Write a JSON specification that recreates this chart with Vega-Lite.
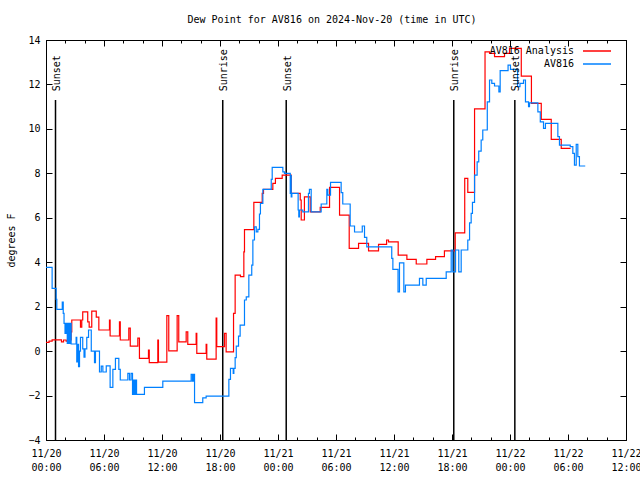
{
"$schema": "https://vega.github.io/schema/vega-lite/v6.json",
"autosize": {"type": "none"},
"width": 580,
"height": 400,
"padding": {"left": 46, "top": 40, "right": 14, "bottom": 40},
"background": "white",
"title": {"text": "Dew Point for AV816 on 2024-Nov-20 (time in UTC)", "font": "DejaVu Sans Mono", "fontSize": 10, "fontWeight": "normal", "color": "black", "offset": 10, "dx": -4},
"datasets": {
"sun": [
{"label": "Sunset", "t": "2024-11-20T00:59:00Z"},
{"label": "Sunrise", "t": "2024-11-20T18:17:00Z"},
{"label": "Sunset", "t": "2024-11-21T00:51:00Z"},
{"label": "Sunrise", "t": "2024-11-21T18:11:00Z"},
{"label": "Sunset", "t": "2024-11-22T00:30:00Z"}
],
"red": [
{"s": "AV816 Analysis", "t": "2024-11-20T00:00:00Z", "v": 0.39},
{"s": "AV816 Analysis", "t": "2024-11-20T00:19:00Z", "v": 0.45},
{"s": "AV816 Analysis", "t": "2024-11-20T00:38:00Z", "v": 0.51},
{"s": "AV816 Analysis", "t": "2024-11-20T01:36:00Z", "v": 0.42},
{"s": "AV816 Analysis", "t": "2024-11-20T01:49:00Z", "v": 0.50},
{"s": "AV816 Analysis", "t": "2024-11-20T02:05:00Z", "v": 0.45},
{"s": "AV816 Analysis", "t": "2024-11-20T02:26:00Z", "v": 0.50},
{"s": "AV816 Analysis", "t": "2024-11-20T02:36:00Z", "v": 0.87},
{"s": "AV816 Analysis", "t": "2024-11-20T02:40:00Z", "v": 1.40},
{"s": "AV816 Analysis", "t": "2024-11-20T03:34:00Z", "v": 1.08},
{"s": "AV816 Analysis", "t": "2024-11-20T03:42:00Z", "v": 1.40},
{"s": "AV816 Analysis", "t": "2024-11-20T03:48:00Z", "v": 1.77},
{"s": "AV816 Analysis", "t": "2024-11-20T04:19:00Z", "v": 1.32},
{"s": "AV816 Analysis", "t": "2024-11-20T04:28:00Z", "v": 1.08},
{"s": "AV816 Analysis", "t": "2024-11-20T04:44:00Z", "v": 1.80},
{"s": "AV816 Analysis", "t": "2024-11-20T05:12:00Z", "v": 1.53},
{"s": "AV816 Analysis", "t": "2024-11-20T05:28:00Z", "v": 0.95},
{"s": "AV816 Analysis", "t": "2024-11-20T06:34:00Z", "v": 1.40},
{"s": "AV816 Analysis", "t": "2024-11-20T06:38:00Z", "v": 0.68},
{"s": "AV816 Analysis", "t": "2024-11-20T07:36:00Z", "v": 1.32},
{"s": "AV816 Analysis", "t": "2024-11-20T07:41:00Z", "v": 0.50},
{"s": "AV816 Analysis", "t": "2024-11-20T08:34:00Z", "v": 1.03},
{"s": "AV816 Analysis", "t": "2024-11-20T08:43:00Z", "v": 0.22},
{"s": "AV816 Analysis", "t": "2024-11-20T09:30:00Z", "v": 0.58},
{"s": "AV816 Analysis", "t": "2024-11-20T09:40:00Z", "v": -0.33},
{"s": "AV816 Analysis", "t": "2024-11-20T10:36:00Z", "v": 0.05},
{"s": "AV816 Analysis", "t": "2024-11-20T10:41:00Z", "v": -0.52},
{"s": "AV816 Analysis", "t": "2024-11-20T11:34:00Z", "v": 0.50},
{"s": "AV816 Analysis", "t": "2024-11-20T11:38:00Z", "v": -0.50},
{"s": "AV816 Analysis", "t": "2024-11-20T12:30:00Z", "v": 1.60},
{"s": "AV816 Analysis", "t": "2024-11-20T12:42:00Z", "v": 0.01},
{"s": "AV816 Analysis", "t": "2024-11-20T13:34:00Z", "v": 1.60},
{"s": "AV816 Analysis", "t": "2024-11-20T13:44:00Z", "v": 0.42},
{"s": "AV816 Analysis", "t": "2024-11-20T14:30:00Z", "v": 0.87},
{"s": "AV816 Analysis", "t": "2024-11-20T14:40:00Z", "v": 0.30},
{"s": "AV816 Analysis", "t": "2024-11-20T15:32:00Z", "v": 0.80},
{"s": "AV816 Analysis", "t": "2024-11-20T15:36:00Z", "v": -0.10},
{"s": "AV816 Analysis", "t": "2024-11-20T16:34:00Z", "v": 0.30},
{"s": "AV816 Analysis", "t": "2024-11-20T16:38:00Z", "v": -0.36},
{"s": "AV816 Analysis", "t": "2024-11-20T17:36:00Z", "v": 1.48},
{"s": "AV816 Analysis", "t": "2024-11-20T17:40:00Z", "v": 0.20},
{"s": "AV816 Analysis", "t": "2024-11-20T18:28:00Z", "v": 0.80},
{"s": "AV816 Analysis", "t": "2024-11-20T18:38:00Z", "v": -0.03},
{"s": "AV816 Analysis", "t": "2024-11-20T19:24:00Z", "v": 1.70},
{"s": "AV816 Analysis", "t": "2024-11-20T19:34:00Z", "v": 3.42},
{"s": "AV816 Analysis", "t": "2024-11-20T20:07:00Z", "v": 3.35},
{"s": "AV816 Analysis", "t": "2024-11-20T20:28:00Z", "v": 4.47},
{"s": "AV816 Analysis", "t": "2024-11-20T20:32:00Z", "v": 5.47},
{"s": "AV816 Analysis", "t": "2024-11-20T21:30:00Z", "v": 6.69},
{"s": "AV816 Analysis", "t": "2024-11-20T22:22:00Z", "v": 7.10},
{"s": "AV816 Analysis", "t": "2024-11-20T22:30:00Z", "v": 7.28},
{"s": "AV816 Analysis", "t": "2024-11-20T23:28:00Z", "v": 7.55},
{"s": "AV816 Analysis", "t": "2024-11-20T23:44:00Z", "v": 7.77},
{"s": "AV816 Analysis", "t": "2024-11-21T00:26:00Z", "v": 7.92},
{"s": "AV816 Analysis", "t": "2024-11-21T01:22:00Z", "v": 7.10},
{"s": "AV816 Analysis", "t": "2024-11-21T02:18:00Z", "v": 6.80},
{"s": "AV816 Analysis", "t": "2024-11-21T02:24:00Z", "v": 5.90},
{"s": "AV816 Analysis", "t": "2024-11-21T02:44:00Z", "v": 6.94},
{"s": "AV816 Analysis", "t": "2024-11-21T03:20:00Z", "v": 6.27},
{"s": "AV816 Analysis", "t": "2024-11-21T04:22:00Z", "v": 6.47},
{"s": "AV816 Analysis", "t": "2024-11-21T05:20:00Z", "v": 7.37},
{"s": "AV816 Analysis", "t": "2024-11-21T06:22:00Z", "v": 6.12},
{"s": "AV816 Analysis", "t": "2024-11-21T07:22:00Z", "v": 4.62},
{"s": "AV816 Analysis", "t": "2024-11-21T08:20:00Z", "v": 4.85},
{"s": "AV816 Analysis", "t": "2024-11-21T09:22:00Z", "v": 4.51},
{"s": "AV816 Analysis", "t": "2024-11-21T10:24:00Z", "v": 4.80},
{"s": "AV816 Analysis", "t": "2024-11-21T11:14:00Z", "v": 5.00},
{"s": "AV816 Analysis", "t": "2024-11-21T11:26:00Z", "v": 4.92},
{"s": "AV816 Analysis", "t": "2024-11-21T12:26:00Z", "v": 4.32},
{"s": "AV816 Analysis", "t": "2024-11-21T13:20:00Z", "v": 4.13},
{"s": "AV816 Analysis", "t": "2024-11-21T14:18:00Z", "v": 3.92},
{"s": "AV816 Analysis", "t": "2024-11-21T15:24:00Z", "v": 4.13},
{"s": "AV816 Analysis", "t": "2024-11-21T16:18:00Z", "v": 4.25},
{"s": "AV816 Analysis", "t": "2024-11-21T17:13:00Z", "v": 4.51},
{"s": "AV816 Analysis", "t": "2024-11-21T18:20:00Z", "v": 5.32},
{"s": "AV816 Analysis", "t": "2024-11-21T19:19:00Z", "v": 7.77},
{"s": "AV816 Analysis", "t": "2024-11-21T19:38:00Z", "v": 7.14},
{"s": "AV816 Analysis", "t": "2024-11-21T20:20:00Z", "v": 10.90},
{"s": "AV816 Analysis", "t": "2024-11-21T21:25:00Z", "v": 13.47},
{"s": "AV816 Analysis", "t": "2024-11-21T21:53:00Z", "v": 13.40},
{"s": "AV816 Analysis", "t": "2024-11-21T22:24:00Z", "v": 13.25},
{"s": "AV816 Analysis", "t": "2024-11-21T23:26:00Z", "v": 13.40},
{"s": "AV816 Analysis", "t": "2024-11-21T23:57:00Z", "v": 13.62},
{"s": "AV816 Analysis", "t": "2024-11-22T01:10:00Z", "v": 12.37},
{"s": "AV816 Analysis", "t": "2024-11-22T02:13:00Z", "v": 11.15},
{"s": "AV816 Analysis", "t": "2024-11-22T03:14:00Z", "v": 10.43},
{"s": "AV816 Analysis", "t": "2024-11-22T04:16:00Z", "v": 9.53},
{"s": "AV816 Analysis", "t": "2024-11-22T05:18:00Z", "v": 9.12},
{"s": "AV816 Analysis", "t": "2024-11-22T06:16:00Z", "v": 9.12}
],
"blue": [
{"s": "AV816", "t": "2024-11-20T00:00:00Z", "v": 3.77},
{"s": "AV816", "t": "2024-11-20T00:38:00Z", "v": 2.82},
{"s": "AV816", "t": "2024-11-20T01:03:00Z", "v": 2.33},
{"s": "AV816", "t": "2024-11-20T01:07:00Z", "v": 1.88},
{"s": "AV816", "t": "2024-11-20T01:41:00Z", "v": 2.20},
{"s": "AV816", "t": "2024-11-20T01:47:00Z", "v": 1.70},
{"s": "AV816", "t": "2024-11-20T01:52:00Z", "v": 1.25},
{"s": "AV816", "t": "2024-11-20T01:58:00Z", "v": 0.80},
{"s": "AV816", "t": "2024-11-20T02:05:00Z", "v": 1.25},
{"s": "AV816", "t": "2024-11-20T02:12:00Z", "v": 0.35},
{"s": "AV816", "t": "2024-11-20T02:18:00Z", "v": 1.25},
{"s": "AV816", "t": "2024-11-20T02:24:00Z", "v": 0.35},
{"s": "AV816", "t": "2024-11-20T02:30:00Z", "v": 1.25},
{"s": "AV816", "t": "2024-11-20T02:36:00Z", "v": 0.32},
{"s": "AV816", "t": "2024-11-20T03:07:00Z", "v": 0.62},
{"s": "AV816", "t": "2024-11-20T03:11:00Z", "v": -0.48},
{"s": "AV816", "t": "2024-11-20T03:16:00Z", "v": 0.30},
{"s": "AV816", "t": "2024-11-20T03:22:00Z", "v": -0.70},
{"s": "AV816", "t": "2024-11-20T03:28:00Z", "v": 0.00},
{"s": "AV816", "t": "2024-11-20T03:34:00Z", "v": 0.62},
{"s": "AV816", "t": "2024-11-20T03:48:00Z", "v": 0.10},
{"s": "AV816", "t": "2024-11-20T03:56:00Z", "v": -0.27},
{"s": "AV816", "t": "2024-11-20T04:02:00Z", "v": 0.10},
{"s": "AV816", "t": "2024-11-20T04:13:00Z", "v": 0.62},
{"s": "AV816", "t": "2024-11-20T04:24:00Z", "v": 0.95},
{"s": "AV816", "t": "2024-11-20T04:41:00Z", "v": 0.00},
{"s": "AV816", "t": "2024-11-20T05:01:00Z", "v": -0.52},
{"s": "AV816", "t": "2024-11-20T05:07:00Z", "v": 0.00},
{"s": "AV816", "t": "2024-11-20T05:32:00Z", "v": -0.94},
{"s": "AV816", "t": "2024-11-20T05:43:00Z", "v": -0.68},
{"s": "AV816", "t": "2024-11-20T05:53:00Z", "v": -0.94},
{"s": "AV816", "t": "2024-11-20T06:14:00Z", "v": -0.66},
{"s": "AV816", "t": "2024-11-20T06:38:00Z", "v": -1.63},
{"s": "AV816", "t": "2024-11-20T06:55:00Z", "v": -0.82},
{"s": "AV816", "t": "2024-11-20T07:11:00Z", "v": -0.33},
{"s": "AV816", "t": "2024-11-20T07:32:00Z", "v": -0.82},
{"s": "AV816", "t": "2024-11-20T07:41:00Z", "v": -1.30},
{"s": "AV816", "t": "2024-11-20T08:28:00Z", "v": -1.00},
{"s": "AV816", "t": "2024-11-20T08:38:00Z", "v": -1.30},
{"s": "AV816", "t": "2024-11-20T08:48:00Z", "v": -1.00},
{"s": "AV816", "t": "2024-11-20T08:57:00Z", "v": -1.95},
{"s": "AV816", "t": "2024-11-20T09:03:00Z", "v": -1.30},
{"s": "AV816", "t": "2024-11-20T09:09:00Z", "v": -1.95},
{"s": "AV816", "t": "2024-11-20T09:16:00Z", "v": -1.30},
{"s": "AV816", "t": "2024-11-20T09:22:00Z", "v": -1.95},
{"s": "AV816", "t": "2024-11-20T10:11:00Z", "v": -1.63},
{"s": "AV816", "t": "2024-11-20T12:05:00Z", "v": -1.35},
{"s": "AV816", "t": "2024-11-20T15:01:00Z", "v": -1.05},
{"s": "AV816", "t": "2024-11-20T15:09:00Z", "v": -1.35},
{"s": "AV816", "t": "2024-11-20T15:16:00Z", "v": -1.05},
{"s": "AV816", "t": "2024-11-20T15:22:00Z", "v": -2.32},
{"s": "AV816", "t": "2024-11-20T16:13:00Z", "v": -2.10},
{"s": "AV816", "t": "2024-11-20T16:34:00Z", "v": -2.03},
{"s": "AV816", "t": "2024-11-20T18:55:00Z", "v": -1.27},
{"s": "AV816", "t": "2024-11-20T19:05:00Z", "v": -0.78},
{"s": "AV816", "t": "2024-11-20T19:22:00Z", "v": -1.00},
{"s": "AV816", "t": "2024-11-20T19:26:00Z", "v": -0.78},
{"s": "AV816", "t": "2024-11-20T19:34:00Z", "v": -0.29},
{"s": "AV816", "t": "2024-11-20T19:41:00Z", "v": 0.22},
{"s": "AV816", "t": "2024-11-20T19:55:00Z", "v": 0.67},
{"s": "AV816", "t": "2024-11-20T20:05:00Z", "v": 1.17},
{"s": "AV816", "t": "2024-11-20T20:32:00Z", "v": 2.30},
{"s": "AV816", "t": "2024-11-20T20:43:00Z", "v": 2.44},
{"s": "AV816", "t": "2024-11-20T20:59:00Z", "v": 3.42},
{"s": "AV816", "t": "2024-11-20T21:17:00Z", "v": 3.87},
{"s": "AV816", "t": "2024-11-20T21:24:00Z", "v": 5.00},
{"s": "AV816", "t": "2024-11-20T21:34:00Z", "v": 5.59},
{"s": "AV816", "t": "2024-11-20T21:45:00Z", "v": 5.37},
{"s": "AV816", "t": "2024-11-20T21:55:00Z", "v": 5.48},
{"s": "AV816", "t": "2024-11-20T22:05:00Z", "v": 6.17},
{"s": "AV816", "t": "2024-11-20T22:11:00Z", "v": 6.65},
{"s": "AV816", "t": "2024-11-20T22:26:00Z", "v": 7.28},
{"s": "AV816", "t": "2024-11-20T23:18:00Z", "v": 7.73},
{"s": "AV816", "t": "2024-11-20T23:24:00Z", "v": 8.27},
{"s": "AV816", "t": "2024-11-21T00:30:00Z", "v": 8.07},
{"s": "AV816", "t": "2024-11-21T00:40:00Z", "v": 8.00},
{"s": "AV816", "t": "2024-11-21T01:16:00Z", "v": 7.10},
{"s": "AV816", "t": "2024-11-21T01:19:00Z", "v": 7.90},
{"s": "AV816", "t": "2024-11-21T01:22:00Z", "v": 6.94},
{"s": "AV816", "t": "2024-11-21T01:26:00Z", "v": 7.10},
{"s": "AV816", "t": "2024-11-21T02:05:00Z", "v": 6.35},
{"s": "AV816", "t": "2024-11-21T02:09:00Z", "v": 6.04},
{"s": "AV816", "t": "2024-11-21T02:13:00Z", "v": 6.35},
{"s": "AV816", "t": "2024-11-21T02:34:00Z", "v": 6.27},
{"s": "AV816", "t": "2024-11-21T03:09:00Z", "v": 7.10},
{"s": "AV816", "t": "2024-11-21T03:15:00Z", "v": 7.28},
{"s": "AV816", "t": "2024-11-21T03:26:00Z", "v": 6.27},
{"s": "AV816", "t": "2024-11-21T04:28:00Z", "v": 6.62},
{"s": "AV816", "t": "2024-11-21T05:03:00Z", "v": 7.28},
{"s": "AV816", "t": "2024-11-21T05:09:00Z", "v": 7.02},
{"s": "AV816", "t": "2024-11-21T05:26:00Z", "v": 7.59},
{"s": "AV816", "t": "2024-11-21T06:32:00Z", "v": 7.13},
{"s": "AV816", "t": "2024-11-21T06:42:00Z", "v": 6.62},
{"s": "AV816", "t": "2024-11-21T07:28:00Z", "v": 5.63},
{"s": "AV816", "t": "2024-11-21T07:55:00Z", "v": 5.36},
{"s": "AV816", "t": "2024-11-21T08:43:00Z", "v": 5.63},
{"s": "AV816", "t": "2024-11-21T08:57:00Z", "v": 5.12},
{"s": "AV816", "t": "2024-11-21T09:11:00Z", "v": 4.69},
{"s": "AV816", "t": "2024-11-21T11:46:00Z", "v": 4.17},
{"s": "AV816", "t": "2024-11-21T11:53:00Z", "v": 3.68},
{"s": "AV816", "t": "2024-11-21T12:25:00Z", "v": 2.67},
{"s": "AV816", "t": "2024-11-21T12:34:00Z", "v": 3.97},
{"s": "AV816", "t": "2024-11-21T13:01:00Z", "v": 2.67},
{"s": "AV816", "t": "2024-11-21T13:11:00Z", "v": 2.97},
{"s": "AV816", "t": "2024-11-21T14:38:00Z", "v": 3.27},
{"s": "AV816", "t": "2024-11-21T14:59:00Z", "v": 2.97},
{"s": "AV816", "t": "2024-11-21T15:20:00Z", "v": 3.27},
{"s": "AV816", "t": "2024-11-21T17:24:00Z", "v": 3.57},
{"s": "AV816", "t": "2024-11-21T17:55:00Z", "v": 4.55},
{"s": "AV816", "t": "2024-11-21T18:05:00Z", "v": 3.57},
{"s": "AV816", "t": "2024-11-21T18:22:00Z", "v": 4.55},
{"s": "AV816", "t": "2024-11-21T18:42:00Z", "v": 3.57},
{"s": "AV816", "t": "2024-11-21T18:57:00Z", "v": 4.55},
{"s": "AV816", "t": "2024-11-21T19:38:00Z", "v": 5.00},
{"s": "AV816", "t": "2024-11-21T19:49:00Z", "v": 5.77},
{"s": "AV816", "t": "2024-11-21T19:59:00Z", "v": 6.20},
{"s": "AV816", "t": "2024-11-21T20:07:00Z", "v": 6.69},
{"s": "AV816", "t": "2024-11-21T20:20:00Z", "v": 7.92},
{"s": "AV816", "t": "2024-11-21T20:36:00Z", "v": 8.52},
{"s": "AV816", "t": "2024-11-21T20:46:00Z", "v": 9.00},
{"s": "AV816", "t": "2024-11-21T21:01:00Z", "v": 9.50},
{"s": "AV816", "t": "2024-11-21T21:11:00Z", "v": 9.95},
{"s": "AV816", "t": "2024-11-21T21:39:00Z", "v": 11.22},
{"s": "AV816", "t": "2024-11-21T21:53:00Z", "v": 12.20},
{"s": "AV816", "t": "2024-11-21T22:07:00Z", "v": 12.05},
{"s": "AV816", "t": "2024-11-21T22:24:00Z", "v": 11.93},
{"s": "AV816", "t": "2024-11-21T22:51:00Z", "v": 11.67},
{"s": "AV816", "t": "2024-11-21T22:59:00Z", "v": 12.62},
{"s": "AV816", "t": "2024-11-21T23:48:00Z", "v": 12.87},
{"s": "AV816", "t": "2024-11-22T00:03:00Z", "v": 12.68},
{"s": "AV816", "t": "2024-11-22T00:47:00Z", "v": 11.90},
{"s": "AV816", "t": "2024-11-22T01:02:00Z", "v": 12.05},
{"s": "AV816", "t": "2024-11-22T01:24:00Z", "v": 12.20},
{"s": "AV816", "t": "2024-11-22T01:36:00Z", "v": 11.22},
{"s": "AV816", "t": "2024-11-22T01:55:00Z", "v": 11.00},
{"s": "AV816", "t": "2024-11-22T02:01:00Z", "v": 11.17},
{"s": "AV816", "t": "2024-11-22T02:53:00Z", "v": 10.77},
{"s": "AV816", "t": "2024-11-22T03:08:00Z", "v": 10.32},
{"s": "AV816", "t": "2024-11-22T03:28:00Z", "v": 10.02},
{"s": "AV816", "t": "2024-11-22T03:40:00Z", "v": 10.25},
{"s": "AV816", "t": "2024-11-22T04:57:00Z", "v": 9.65},
{"s": "AV816", "t": "2024-11-22T05:07:00Z", "v": 9.27},
{"s": "AV816", "t": "2024-11-22T06:14:00Z", "v": 9.20},
{"s": "AV816", "t": "2024-11-22T06:30:00Z", "v": 8.90},
{"s": "AV816", "t": "2024-11-22T06:40:00Z", "v": 8.37},
{"s": "AV816", "t": "2024-11-22T06:51:00Z", "v": 9.30},
{"s": "AV816", "t": "2024-11-22T07:01:00Z", "v": 8.75},
{"s": "AV816", "t": "2024-11-22T07:11:00Z", "v": 8.33},
{"s": "AV816", "t": "2024-11-22T07:47:00Z", "v": 8.33}
]
},
"layer": [
{
"data": {"name": "sun"},
"mark": {"type": "rule", "color": "black", "strokeWidth": 1.5},
"encoding": {
"x": {"field": "t", "type": "temporal", "axis": {"orient": "top", "title": null, "labels": false, "tickSize": -6, "values": [1732060800000, 1732082400000, 1732104000000, 1732125600000, 1732147200000, 1732168800000, 1732190400000, 1732212000000, 1732233600000, 1732255200000, 1732276800000]}},
"y": {"datum": -4, "axis": null},
"y2": {"datum": 11.3}
}
},
{
"data": {"name": "red"},
"mark": {"type": "line", "interpolate": "step-after", "strokeWidth": 1.2},
"encoding": {
"x": {"field": "t", "type": "temporal", "scale": {"type": "utc", "domain": ["2024-11-20T00:00:00Z", "2024-11-22T12:00:00Z"]}, "axis": {"orient": "bottom", "title": null, "tickSize": -6, "values": [1732060800000, 1732082400000, 1732104000000, 1732125600000, 1732147200000, 1732168800000, 1732190400000, 1732212000000, 1732233600000, 1732255200000, 1732276800000], "labelOverlap": false, "labelFlush": false, "labelBound": false, "labelPadding": 14, "labelLineHeight": 14, "labelBaseline": "top", "labelExpr": "[utcFormat(datum.value, '%m/%d'), utcFormat(datum.value, '%H:%M')]"}},
"y": {"field": "v", "type": "quantitative", "scale": {"domain": [-4, 14], "nice": false, "zero": false}, "axis": {"orient": "left", "title": "degrees F", "tickSize": -6, "labelPadding": 12, "titlePadding": 11, "values": [-4, -2, 0, 2, 4, 6, 8, 10, 12, 14]}},
"color": {"field": "s", "type": "nominal", "scale": {"domain": ["AV816 Analysis", "AV816"], "range": ["#ff0000", "#0080ff"]}, "legend": {"title": null, "orient": "none", "legendX": 546, "legendY": 6, "direction": "vertical", "symbolType": "M-3.5,0H3.5", "symbolSize": 64, "symbolStrokeWidth": 1.5, "labelAlign": "right", "labelOffset": -28, "rowPadding": 3, "labelFont": "DejaVu Sans Mono", "labelFontSize": 10, "labelColor": "black"}}
}
},
{
"data": {"name": "blue"},
"mark": {"type": "line", "interpolate": "step-after", "strokeWidth": 1.2},
"encoding": {
"x": {"field": "t", "type": "temporal", "axis": {"orient": "bottom", "title": null, "labels": false, "tickSize": -3, "values": [1732060800000, 1732068000000, 1732075200000, 1732082400000, 1732089600000, 1732096800000, 1732104000000, 1732111200000, 1732118400000, 1732125600000, 1732132800000, 1732140000000, 1732147200000, 1732154400000, 1732161600000, 1732168800000, 1732176000000, 1732183200000, 1732190400000, 1732197600000, 1732204800000, 1732212000000, 1732219200000, 1732226400000, 1732233600000, 1732240800000, 1732248000000, 1732255200000, 1732262400000, 1732269600000, 1732276800000]}},
"y": {"field": "v", "type": "quantitative", "axis": {"orient": "right", "title": null, "labels": false, "tickSize": -6, "values": [-4, -2, 0, 2, 4, 6, 8, 10, 12, 14]}},
"color": {"field": "s", "type": "nominal"}
}
},
{
"data": {"name": "sun"},
"mark": {"type": "text", "angle": 270, "align": "left", "baseline": "middle", "font": "DejaVu Sans Mono", "fontSize": 10, "color": "black", "dy": 1.5},
"encoding": {
"x": {"field": "t", "type": "temporal", "axis": {"orient": "top", "title": null, "labels": false, "tickSize": -3, "values": [1732060800000, 1732068000000, 1732075200000, 1732082400000, 1732089600000, 1732096800000, 1732104000000, 1732111200000, 1732118400000, 1732125600000, 1732132800000, 1732140000000, 1732147200000, 1732154400000, 1732161600000, 1732168800000, 1732176000000, 1732183200000, 1732190400000, 1732197600000, 1732204800000, 1732212000000, 1732219200000, 1732226400000, 1732233600000, 1732240800000, 1732248000000, 1732255200000, 1732262400000, 1732269600000, 1732276800000]}},
"y": {"datum": 11.69, "axis": null},
"text": {"field": "label"}
}
}
],
"resolve": {"axis": {"x": "independent", "y": "independent"}},
"config": {
"view": {"stroke": "black", "strokeWidth": 1},
"axis": {"domain": false, "grid": false, "tickColor": "black", "labelColor": "black", "labelFont": "DejaVu Sans Mono", "labelFontSize": 10, "titleFont": "DejaVu Sans Mono", "titleFontSize": 10, "titleFontWeight": "normal", "titleColor": "black"}
}
}
